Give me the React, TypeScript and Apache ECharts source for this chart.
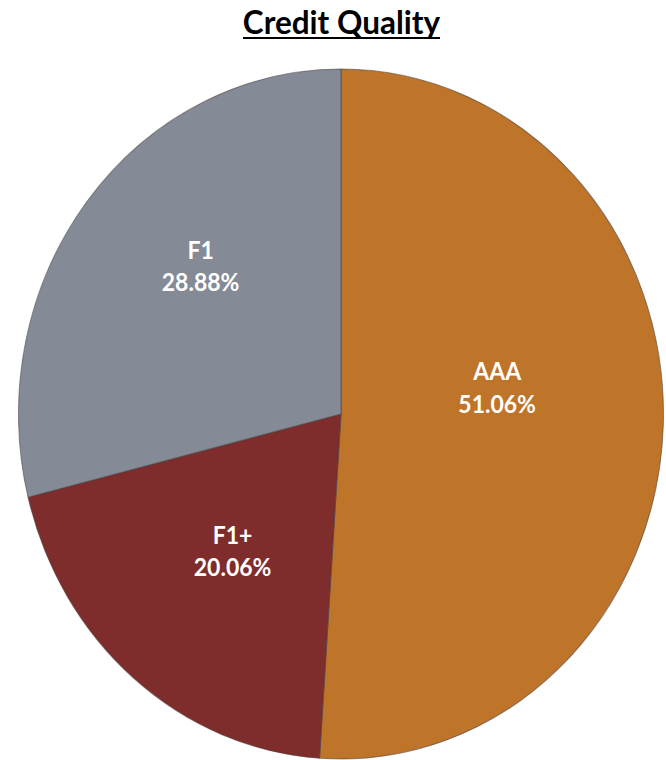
import React, { useEffect, useRef } from "react";
import * as echarts from "echarts";

const categories = ["AAA", "F1+", "F1"];
const values = [51.06, 20.06, 28.88];
const colors = ["#BE7429", "#7E2D2C", "#848A96"];
const labelShift = [
  [-8, -31],
  [-3, 1],
  [-11, -38],
];
const titleText = "Credit Quality";

const SCALE_Y = 1.0698;

export default function App() {
  const titleRef = useRef<HTMLDivElement>(null);
  const pieRef = useRef<HTMLDivElement>(null);

  useEffect(() => {
    const t = echarts.init(titleRef.current!, null, { renderer: "svg" });
    t.setOption({
      animation: false,
      graphic: [
        {
          type: "text",
          x: 341.5,
          y: 38,
          style: {
            text: titleText,
            textAlign: "center",
            textVerticalAlign: "bottom",
            fontFamily: "Lato",
            fontWeight: "bold",
            fontSize: 31.5,
            fill: "#000",
          },
        },
        {
          type: "line",
          shape: { x1: 243, y1: 38, x2: 440, y2: 38 },
          style: { stroke: "#000", lineWidth: 2 },
        },
      ],
    });
    const p = echarts.init(pieRef.current!, null, { renderer: "svg" });
    p.setOption({
      animation: false,
      series: [
        {
          type: "pie",
          center: [341, 387],
          radius: 322.5,
          startAngle: 90,
          clockwise: true,
          silent: true,
          data: categories.map((c, i) => ({
            name: c,
            value: values[i],
            itemStyle: { color: colors[i] },
          })),
          itemStyle: { borderColor: "rgba(70,60,60,0.55)", borderWidth: 1 },
          label: {
            show: true,
            position: "inside",
            formatter: (d: any) => `${d.name}\n${values[d.dataIndex].toFixed(2)}%`,
            color: "#fff",
            fontFamily: "Lato",
            fontWeight: "bold",
            fontSize: 23,
            lineHeight: 30,
            align: "center",
          },
          labelLine: { show: false },
          labelLayout: (params: any) => ({
            dx: labelShift[params.dataIndex][0],
            dy: labelShift[params.dataIndex][1],
          }),
        },
      ],
    });
    return () => {
      t.dispose();
      p.dispose();
    };
  }, []);

  return (
    <div
      style={{
        position: "absolute",
        left: 0,
        top: 0,
        width: 666,
        height: 760,
        overflow: "hidden",
        background: "#fff",
      }}
    >
      <div
        ref={pieRef}
        style={{
          position: "absolute",
          left: 0,
          top: 0,
          width: 666,
          height: 711,
          transform: `scaleY(${SCALE_Y})`,
          transformOrigin: "0 0",
        }}
      />
      <div
        ref={titleRef}
        style={{ position: "absolute", left: 0, top: 0, width: 666, height: 60 }}
      />
    </div>
  );
}
